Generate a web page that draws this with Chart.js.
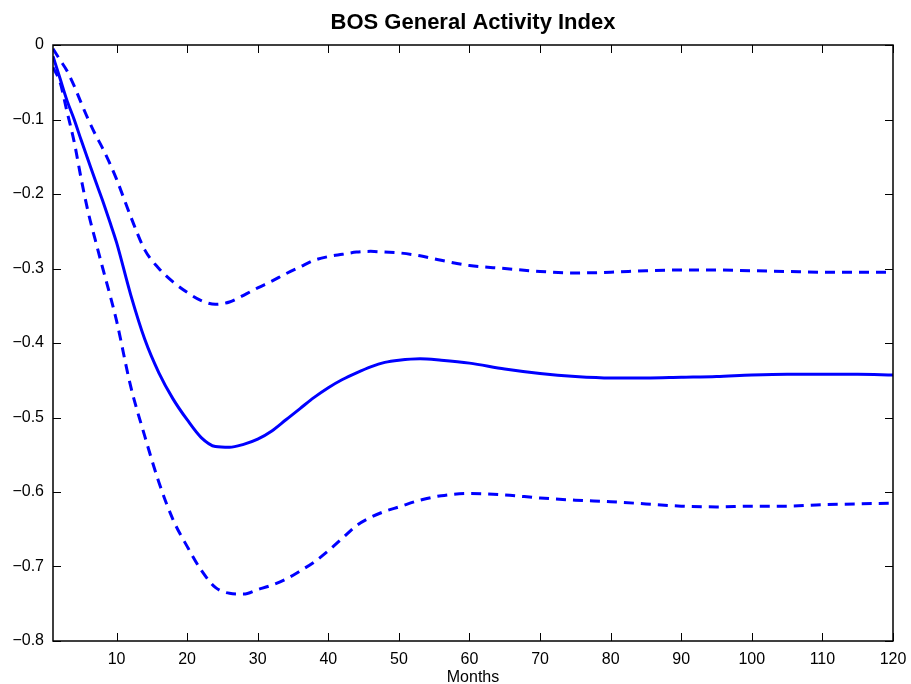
<!DOCTYPE html>
<html>
<head>
<meta charset="utf-8">
<script src="https://cdn.jsdelivr.net/npm/chart.js@4.4.0/dist/chart.umd.min.js"></script>
<style>
	html, body { margin: 0; padding: 0; background: #fff; }
	#chart { display: block; }
</style>
</head>
<body>
<canvas id="chart" width="911" height="684"></canvas>
<script>
// values
const months = [1, 2, 3, 4, 5, 6, 7, 8, 9, 10, 12, 14, 16, 18, 20, 22, 24, 26, 28, 30, 32, 34, 36, 38, 40,
	42, 44, 46, 48, 50, 53, 56, 60, 65, 70, 75, 80, 85, 90, 95, 100, 105, 110, 115, 120];

const response = [-0.015, -0.045, -0.075, -0.1, -0.128, -0.155, -0.182, -0.208, -0.236, -0.265, -0.335, -0.395,
	-0.44, -0.475, -0.503, -0.527, -0.539, -0.54, -0.536, -0.529, -0.518, -0.503, -0.488, -0.473, -0.46,
	-0.449, -0.44, -0.432, -0.426, -0.423, -0.421, -0.423, -0.427, -0.435, -0.441, -0.445, -0.447, -0.447,
	-0.446, -0.445, -0.443, -0.442, -0.442, -0.442, -0.443];

const upperBand = [-0.005, -0.02, -0.035, -0.055, -0.078, -0.1, -0.12, -0.138, -0.158, -0.18, -0.23, -0.275,
	-0.3, -0.318, -0.332, -0.343, -0.348, -0.345, -0.336, -0.326, -0.317, -0.307, -0.298, -0.289, -0.284,
	-0.281, -0.278, -0.277, -0.278, -0.279, -0.283, -0.289, -0.296, -0.3, -0.304, -0.306, -0.305, -0.303,
	-0.302, -0.302, -0.303, -0.304, -0.305, -0.305, -0.305];

const lowerBand = [-0.03, -0.05, -0.09, -0.13, -0.18, -0.225, -0.262, -0.298, -0.333, -0.37, -0.458, -0.525,
	-0.587, -0.637, -0.673, -0.705, -0.728, -0.736, -0.737, -0.731, -0.725, -0.717, -0.706, -0.694, -0.679,
	-0.662, -0.645, -0.634, -0.626, -0.62, -0.611, -0.605, -0.602, -0.604, -0.608, -0.611, -0.613, -0.616,
	-0.619, -0.62, -0.619, -0.619, -0.617, -0.616, -0.615];

const xTicks = [10, 20, 30, 40, 50, 60, 70, 80, 90, 100, 110, 120];
const yTicks = [0, -0.1, -0.2, -0.3, -0.4, -0.5, -0.6, -0.7, -0.8];

const TITLE = 'BOS General Activity Index';
const FONT = "'Liberation Sans', Arial, Helvetica, sans-serif";
const BLUE = '#0000ff';

function points(values) {
	return months.map((m, i) => ({ x: m, y: values[i] }));
}

function lineSet(label, values, dashed) {
	return {
		label: label,
		data: points(values),
		borderColor: BLUE,
		borderWidth: 3,
		borderDash: dashed ? [10, 7] : [],
		pointRadius: 0,
		fill: false,
		cubicInterpolationMode: 'monotone'
	};
}

// box round the plot with inward ticks on all four sides, title centred over the plot
const frameTicks = {
	id: 'frameTicks',
	afterDatasetsDraw(chart) {
		const { ctx, chartArea: a, scales } = chart;
		const len = 8;
		ctx.save();
		ctx.strokeStyle = '#000';
		ctx.lineWidth = 1.5;
		ctx.strokeRect(a.left, a.top, a.right - a.left, a.bottom - a.top);
		ctx.lineWidth = 1;
		ctx.beginPath();
		xTicks.forEach(v => {
			const px = Math.round(scales.x.getPixelForValue(v)) + 0.5;
			ctx.moveTo(px, a.bottom); ctx.lineTo(px, a.bottom - len);
			ctx.moveTo(px, a.top); ctx.lineTo(px, a.top + len);
		});
		yTicks.forEach(v => {
			const py = Math.round(scales.y.getPixelForValue(v)) + 0.5;
			ctx.moveTo(a.left, py); ctx.lineTo(a.left + len, py);
			ctx.moveTo(a.right, py); ctx.lineTo(a.right - len, py);
		});
		ctx.stroke();

		ctx.fillStyle = '#000';
		ctx.font = 'bold 22px ' + FONT;
		ctx.textAlign = 'center';
		ctx.textBaseline = 'middle';
		ctx.fillText(TITLE, (a.left + a.right) / 2, 23);
		ctx.restore();
	}
};

new Chart(document.getElementById('chart'), {
	type: 'line',
	data: {
		datasets: [
			lineSet('Response', response, false),
			lineSet('Upper', upperBand, true),
			lineSet('Lower', lowerBand, true)
		]
	},
	options: {
		responsive: false,
		devicePixelRatio: 1,
		animation: false,
		layout: { padding: { left: 0, right: 18, top: 45, bottom: 0 } },
		plugins: {
			legend: { display: false },
			tooltip: { enabled: false },
			title: { display: false }
		},
		scales: {
			x: {
				type: 'linear',
				min: 1,
				max: 120,
				grid: { display: false, drawTicks: false },
				border: { display: false },
				afterBuildTicks: s => { s.ticks = xTicks.map(v => ({ value: v })); },
				afterFit: s => { s.height = 43; s.paddingLeft = 0; s.paddingRight = 0; },
				ticks: {
					color: '#000',
					padding: 9,
					maxRotation: 0,
					font: { family: FONT, size: 16 },
					callback: v => String(v)
				},
				title: {
					display: true,
					text: 'Months',
					color: '#000',
					padding: { top: 0, bottom: 0 },
					font: { family: FONT, size: 16, lineHeight: 0.75 }
				}
			},
			y: {
				type: 'linear',
				min: -0.8,
				max: 0,
				grid: { display: false, drawTicks: false },
				border: { display: false },
				afterBuildTicks: s => { s.ticks = yTicks.map(v => ({ value: v })); },
				afterFit: s => { s.width = 53; },
				ticks: {
					color: '#000',
					padding: 9,
					font: { family: FONT, size: 16 },
					callback: v => (Math.abs(v) < 1e-9 ? '0' : '\u2212' + Math.abs(v).toFixed(1))
				}
			}
		}
	},
	plugins: [frameTicks]
});
</script>
</body>
</html>
